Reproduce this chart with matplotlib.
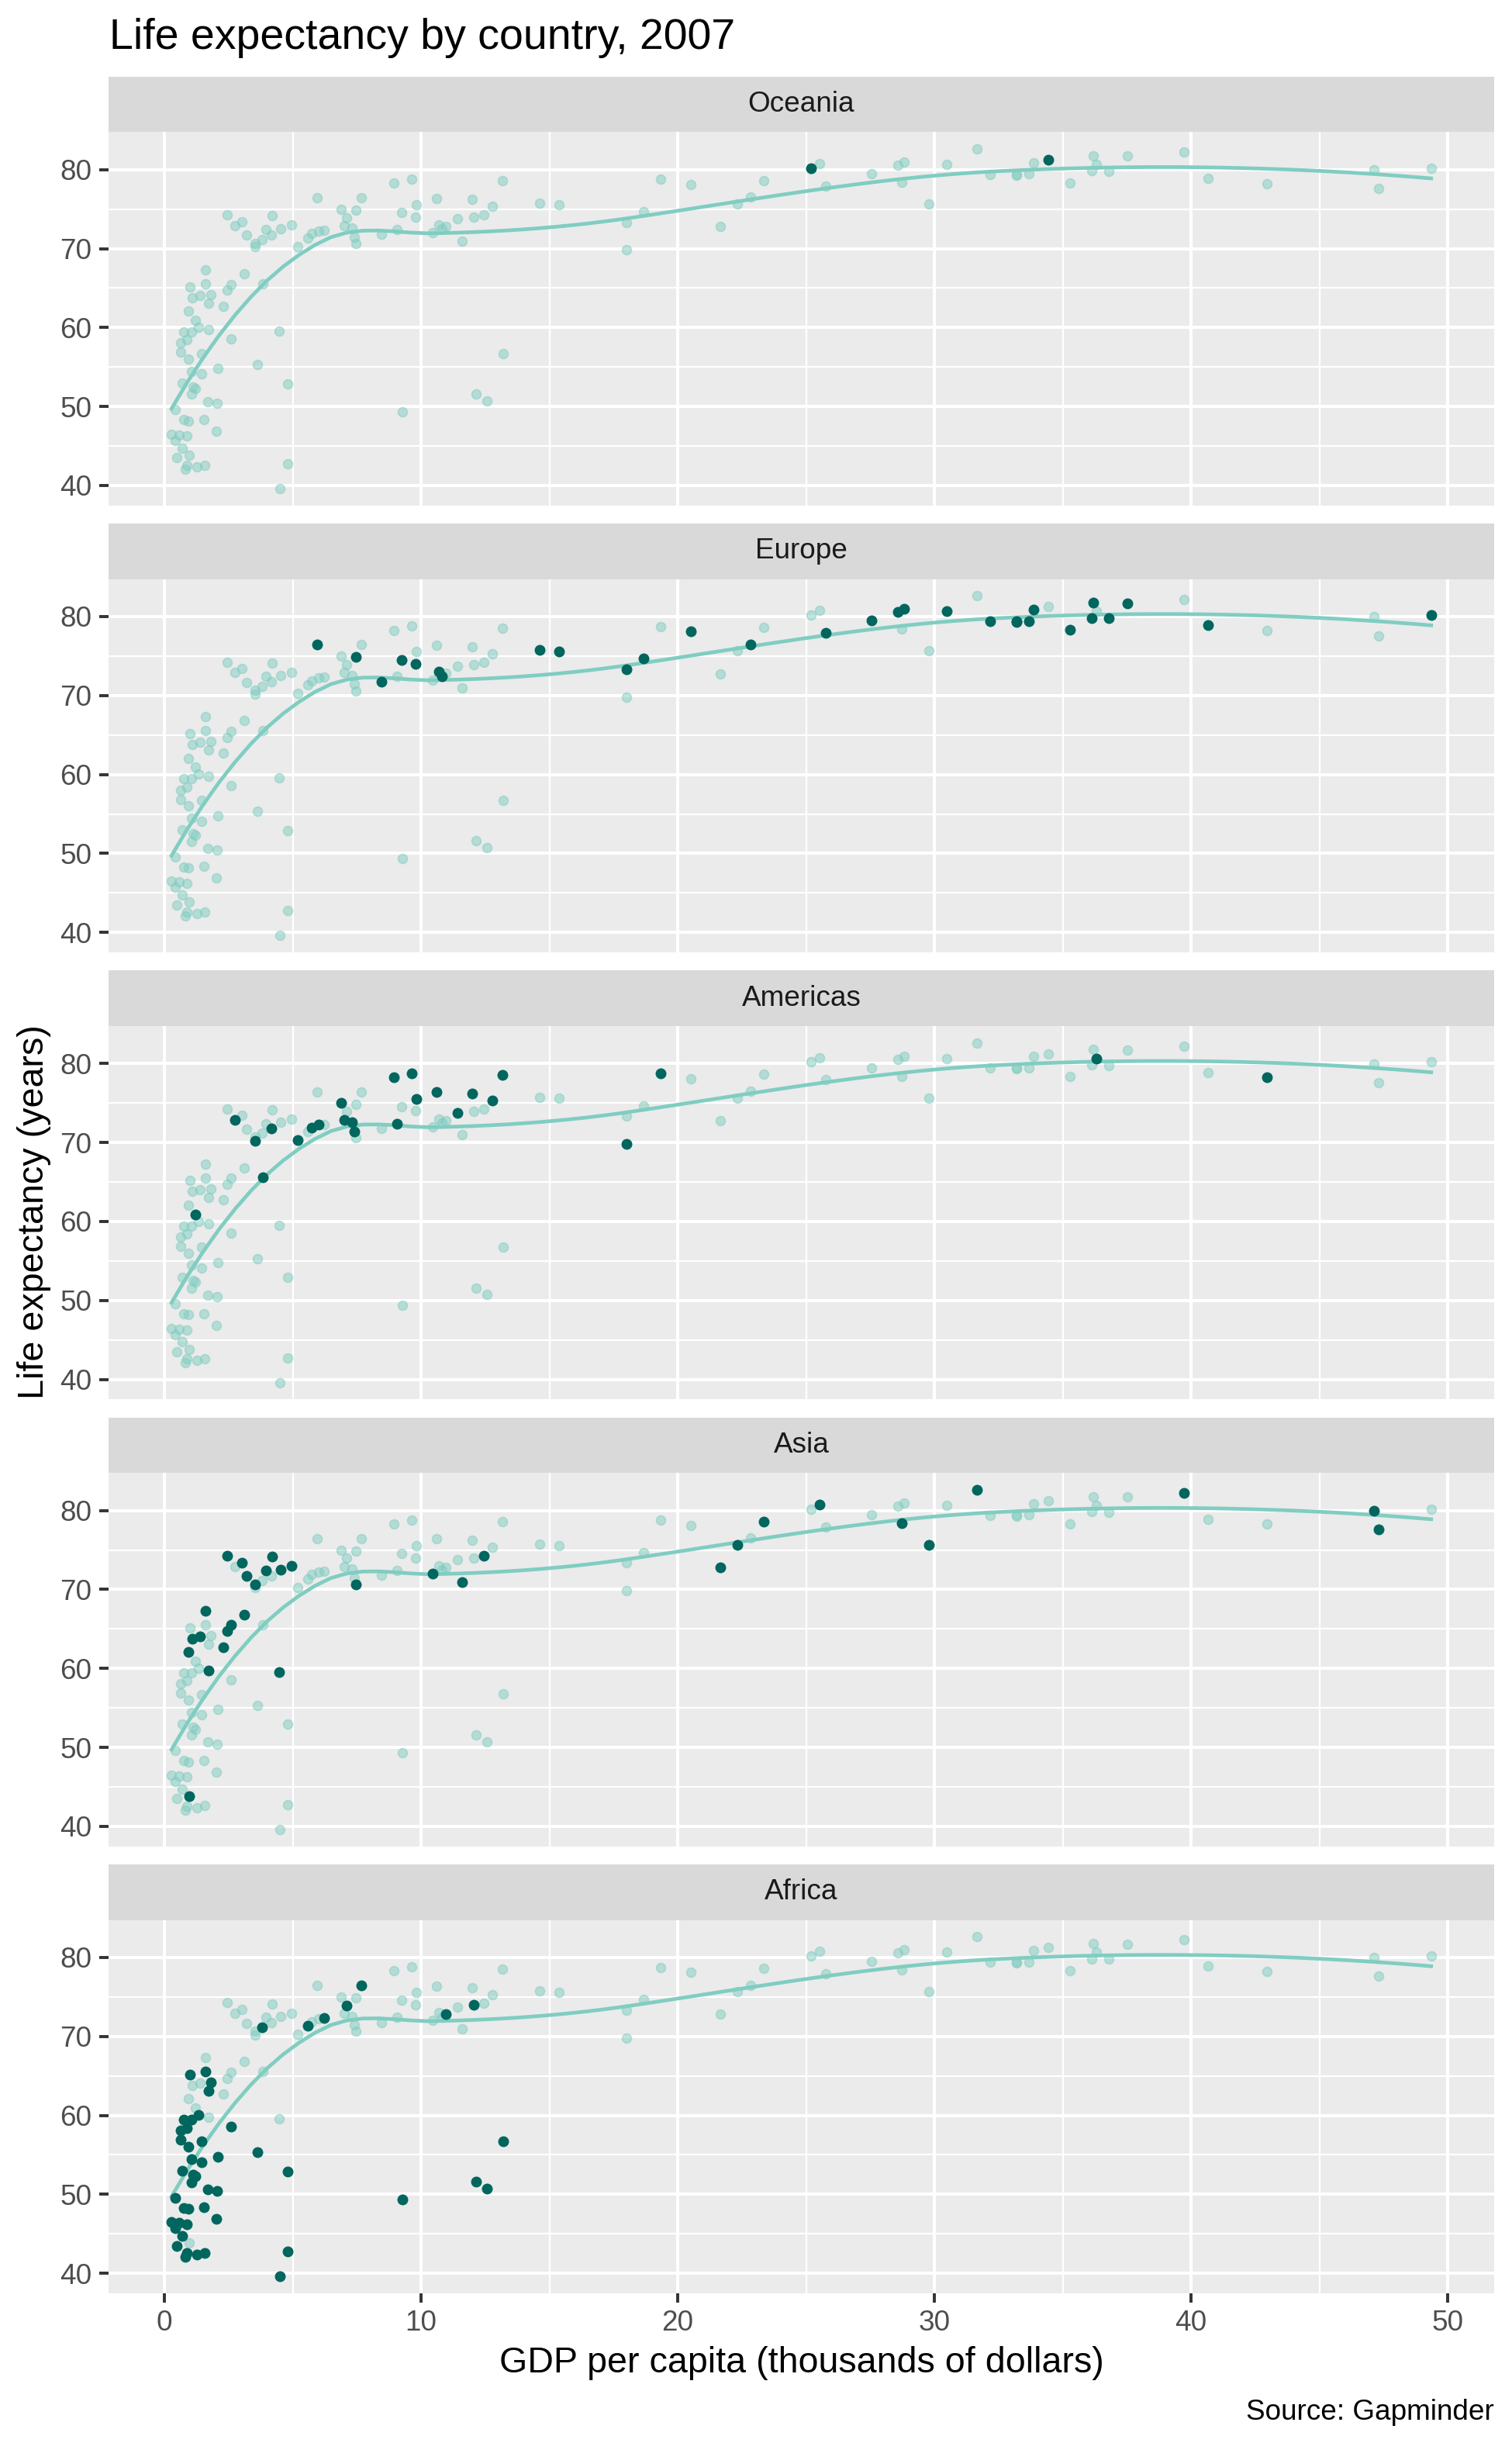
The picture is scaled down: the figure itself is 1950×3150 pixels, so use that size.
import numpy as np
import matplotlib.pyplot as plt
from matplotlib.ticker import MultipleLocator

plt.rcParams['font.family'] = ['Liberation Sans', 'DejaVu Sans']

# Gapminder 2007: GDP per capita (US$) and life expectancy (years), by continent
africa_gdp = [6223.367, 4797.231, 1441.285, 12569.852, 1217.033, 430.071, 2042.095, 706.017,
              1704.064, 986.148, 277.552, 3632.558, 1544.750, 2082.482, 5581.181, 12154.090,
              641.369, 690.806, 13206.485, 752.749, 1327.609, 942.654, 579.232, 1463.249,
              1569.331, 414.507, 12057.499, 1044.770, 759.350, 1042.582, 1803.152, 10956.991,
              3820.175, 823.686, 4811.060, 619.677, 2013.977, 7670.123, 863.089, 1598.435,
              1712.472, 862.541, 926.142, 9269.658, 2602.395, 4513.481, 1107.482, 882.970,
              7092.923, 1056.380, 1271.212, 469.709]
africa_life = [72.301, 42.731, 56.728, 50.728, 52.295, 49.580, 50.430, 44.741,
               50.651, 65.152, 46.462, 55.322, 48.328, 54.791, 71.338, 51.579,
               58.040, 52.947, 56.735, 59.448, 60.022, 56.007, 46.388, 54.110,
               42.592, 45.678, 73.952, 59.443, 48.303, 54.467, 64.164, 72.801,
               71.164, 42.082, 52.906, 56.867, 46.859, 76.442, 46.242, 65.528,
               63.062, 42.568, 48.159, 49.339, 58.556, 39.613, 52.517, 58.420,
               73.923, 51.542, 42.384, 43.487]

americas_gdp = [12779.380, 3822.137, 9065.801, 36319.235, 13171.639, 7006.580, 9645.061,
                8948.103, 6025.375, 6873.262, 5728.354, 5186.050, 1201.637, 3548.331,
                7320.880, 11977.575, 2749.321, 9809.186, 4172.838, 7408.906, 19328.709,
                18008.509, 42951.653, 10611.463, 11415.806]
americas_life = [75.320, 65.554, 72.390, 80.653, 78.553, 72.889, 78.782,
                 78.273, 72.235, 74.994, 71.878, 70.259, 60.916, 70.198,
                 72.567, 76.195, 72.899, 75.537, 71.752, 71.421, 78.746,
                 69.819, 78.242, 76.384, 73.747]

asia_gdp = [974.580, 29796.048, 1391.254, 1713.779, 4959.115, 39724.979, 2452.210,
            3540.652, 11605.714, 4471.062, 25523.277, 31656.068, 4519.461, 1593.065,
            23348.140, 47306.990, 10461.059, 12451.656, 3095.772, 944.000, 1091.360,
            22316.193, 2605.948, 3190.481, 21654.832, 47143.180, 3970.095, 4184.548,
            28718.277, 7458.396, 2441.577, 3025.350, 2280.770]
asia_life = [43.828, 75.635, 64.062, 59.723, 72.961, 82.208, 64.698,
             70.650, 70.964, 59.545, 80.745, 82.603, 72.535, 67.297,
             78.623, 77.588, 71.993, 74.241, 66.803, 62.069, 63.785,
             75.640, 65.483, 71.688, 72.777, 79.972, 72.396, 74.143,
             78.400, 70.616, 74.249, 73.422, 62.698]

europe_gdp = [5937.030, 36126.493, 33692.605, 7446.299, 10680.793, 14619.223, 22833.309,
              35278.419, 33207.084, 30470.017, 32170.374, 27538.412, 18008.944, 36180.789,
              40675.996, 28569.720, 9253.896, 36797.933, 49357.190, 15389.925, 20509.648,
              10808.476, 9786.535, 18678.314, 25768.258, 28821.064, 33859.748, 37506.419,
              8458.276, 33203.261]
europe_life = [76.423, 79.829, 79.441, 74.852, 73.005, 75.748, 76.486,
               78.332, 79.313, 80.657, 79.406, 79.483, 73.338, 81.757,
               78.885, 80.546, 74.543, 79.762, 80.196, 75.563, 78.098,
               72.476, 74.002, 74.663, 77.926, 80.941, 80.884, 81.701,
               71.777, 79.425]

oceania_gdp = [34435.367, 25185.009]
oceania_life = [81.235, 80.204]

facets = [('Oceania', oceania_gdp, oceania_life),
          ('Europe', europe_gdp, europe_life),
          ('Americas', americas_gdp, americas_life),
          ('Asia', asia_gdp, asia_life),
          ('Africa', africa_gdp, africa_life)]

all_gdp = np.array(africa_gdp + americas_gdp + asia_gdp + europe_gdp + oceania_gdp) / 1000
all_life = np.array(africa_life + americas_life + asia_life + europe_life + oceania_life)


def local_fit(x, y, x0, q):
    # weighted local quadratic at x0 -> (value, slope)
    d = np.abs(x - x0)
    h = np.sort(d)[q - 1]
    w = np.clip(1 - (d / h) ** 3, 0, None) ** 3
    X = np.column_stack([np.ones(len(x)), x - x0, (x - x0) ** 2])
    sw = np.sqrt(w)
    beta = np.linalg.lstsq(X * sw[:, None], y * sw, rcond=None)[0]
    return beta[0], beta[1]


def loess(x, y, xs, span=0.75, cell=0.2):
    # like R's loess(surface = "interpolate"): fit at kd-tree vertices,
    # cubic Hermite interpolation in between
    n = len(x)
    q = int(np.floor(n * span))
    fc = int(np.floor(n * span * cell))
    xsort = np.sort(x)
    mu = 0.005 * (xsort[-1] - xsort[0])
    verts = [xsort[0] - mu, xsort[-1] + mu]

    def split(l, u, lo, hi):
        if u - l + 1 <= fc:
            return
        m = (l + u) // 2
        t = xsort[m]
        if t == lo or t == hi:
            return
        verts.append(t)
        split(l, m, lo, t)
        split(m + 1, u, t, hi)

    split(0, n - 1, verts[0], verts[1])
    verts = np.sort(verts)
    vals = np.array([local_fit(x, y, v, q) for v in verts])
    out = []
    for x0 in xs:
        j = min(np.searchsorted(verts, x0, side='right') - 1, len(verts) - 2)
        a, b = verts[j], verts[j + 1]
        hgt = b - a
        t = (x0 - a) / hgt
        h00 = 2 * t ** 3 - 3 * t ** 2 + 1
        h10 = t ** 3 - 2 * t ** 2 + t
        h01 = -2 * t ** 3 + 3 * t ** 2
        h11 = t ** 3 - t ** 2
        out.append(h00 * vals[j, 0] + h10 * hgt * vals[j, 1]
                   + h01 * vals[j + 1, 0] + h11 * hgt * vals[j + 1, 1])
    return np.array(out)


xs = np.linspace(all_gdp.min(), all_gdp.max(), 80)
ys = loess(all_gdp, all_life, xs)

light = '#80CDC1'
dark = '#01665E'

W, H = 1950, 3150
fig = plt.figure(figsize=(W / 200, H / 200), dpi=200)


def box(left, top, right, bottom):
    return [left / W, 1 - bottom / H, (right - left) / W, (bottom - top) / H]


x_pad = 0.05 * (all_gdp.max() - all_gdp.min())
y_pad = 0.05 * (all_life.max() - all_life.min())

left, right = 140, 1927
pitch = 576.3
for i, (name, gdp, life) in enumerate(facets):
    top = 98.8 + i * pitch
    strip_bot = top + 71.5
    bot = top + 553

    sax = fig.add_axes(box(left, top, right, strip_bot))
    sax.set_facecolor('#D9D9D9')
    sax.set_xticks([])
    sax.set_yticks([])
    for s in sax.spines.values():
        s.set_visible(False)
    sax.text(0.5, 0.5, name, ha='center', va='center', fontsize=13.3, color='#1A1A1A',
             transform=sax.transAxes)

    ax = fig.add_axes(box(left, strip_bot, right, bot))
    ax.set_facecolor('#EBEBEB')
    ax.plot(all_gdp, all_life, 'o', ms=4.3, mew=0.6, color=light, alpha=0.5, zorder=2)
    ax.plot(xs, ys, color=light, lw=1.7, zorder=3)
    ax.plot(np.array(gdp) / 1000, life, 'o', ms=4.4, mew=0.6, color=dark, zorder=4)

    ax.set_xlim(all_gdp.min() - x_pad, all_gdp.max() + x_pad)
    ax.set_ylim(all_life.min() - y_pad, all_life.max() + y_pad)
    ax.xaxis.set_major_locator(MultipleLocator(10))
    ax.xaxis.set_minor_locator(MultipleLocator(5))
    ax.yaxis.set_major_locator(MultipleLocator(10))
    ax.yaxis.set_minor_locator(MultipleLocator(5))
    ax.grid(which='major', color='white', lw=1.45)
    ax.grid(which='minor', color='white', lw=0.8)
    ax.set_axisbelow(True)
    for s in ax.spines.values():
        s.set_visible(False)
    ax.tick_params(which='minor', length=0)
    ax.tick_params(which='major', length=4.3, width=1.4, color='#333333',
                   labelsize=13.3, labelcolor='#4D4D4D', pad=3.4)
    if i < len(facets) - 1:
        ax.tick_params(axis='x', which='both', bottom=False, labelbottom=False)

fig.text(141 / W, 1 - 63 / H, 'Life expectancy by country, 2007', ha='left', va='baseline',
         fontsize=20, color='black')
fig.text(44 / W, 1 - 1563 / H, 'Life expectancy (years)', rotation=90, ha='center',
         va='center', fontsize=16.8, color='black')
fig.text((left + right) / 2 / W, 1 - 3047 / H, 'GDP per capita (thousands of dollars)',
         ha='center', va='center', fontsize=16.8, color='black')
fig.text(right / W, 1 - 3110 / H, 'Source: Gapminder', ha='right', va='center',
         fontsize=13.3, color='black')

fig.savefig('out.png', dpi=200)
